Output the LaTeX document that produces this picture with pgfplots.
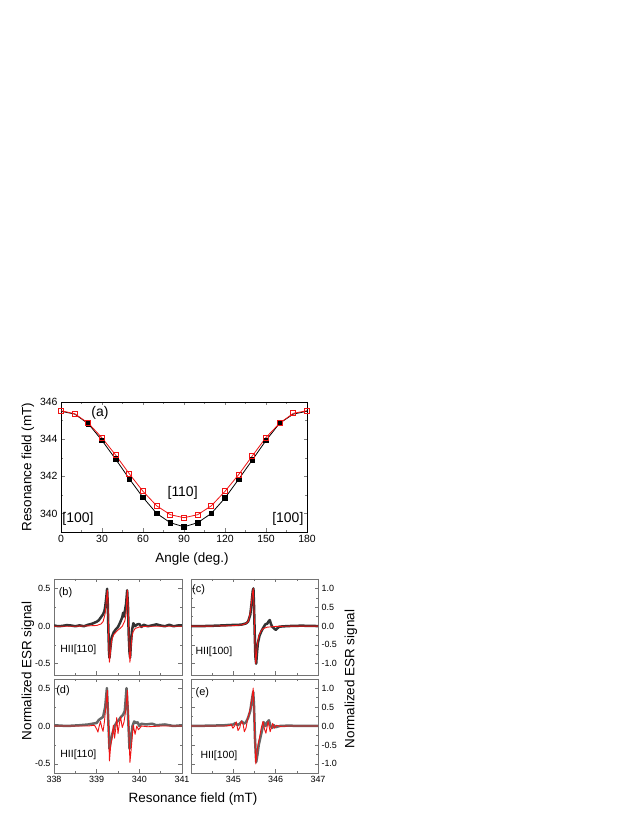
\documentclass[border=0pt]{standalone}
\usepackage{fontspec}
\setmainfont{Liberation Sans}
\usepackage{pgfplots}
\pgfplotsset{compat=1.18}
\definecolor{ored}{RGB}{240,20,20}
\begin{document}
\begin{tikzpicture}[x=1bp,y=1bp]
\path[fill=white,use as bounding box] (0,0) rectangle (638,825);
\pgfplotsset{
  myax/.style={scale only axis, tick align=inside, anchor=south west,
    /pgf/number format/assume math mode=true,
    major tick length=3.5bp, minor tick length=2bp,
    xtick pos=both, ytick pos=both},
  bot/.style={myax, width=127bp, height=95bp,
    axis line style={black!55, line width=0.8bp},
    every tick/.style={black!55, line width=0.5bp},
    ticklabel style={font=\fontsize{9}{10}\selectfont},
    minor x tick num=1, minor y tick num=1,
    yticklabel style={/pgf/number format/.cd, fixed, fixed zerofill, precision=1},
    clip=true},
  expt/.style={black!80, line width=2.5bp, line join=round},
  sim/.style={ored, line width=0.9bp, line join=round},
}
% ---------------- panel (a)
\begin{axis}[myax, at={(61bp,293bp)}, width=246bp, height=130bp,
  xmin=0, xmax=180, ymin=339, ymax=346,
  xtick={0,30,...,180}, ytick={340,342,344,346},
  minor x tick num=1, minor y tick num=1,
  axis line style={line width=0.7bp},
  ticklabel style={font=\fontsize{10.5}{12}\selectfont},
  clip=false]
\addplot[black, line width=0.8bp, mark=square*, mark size=2.3bp, mark indices={3,...,17}] coordinates {
(0,345.5) (10,345.35) (20,344.83) (30,343.93) (40,342.92) (50,341.86) (60,340.86)
(70,340.0) (80,339.5) (90,339.28) (100,339.5) (110,340.0) (120,340.83) (130,341.84)
(140,342.88) (150,343.93) (160,344.86) (170,345.35) (180,345.5)};
\addplot[ored, line width=0.8bp, mark=square, mark size=2.5bp, mark options={line width=0.7bp}] coordinates {
(0,345.53) (10,345.37) (20,344.86) (30,344.07) (40,343.14) (50,342.13) (60,341.19)
(70,340.41) (80,339.93) (90,339.77) (100,339.93) (110,340.41) (120,341.19) (130,342.09)
(140,343.1) (150,344.09) (160,344.86) (170,345.39) (180,345.53)};
\node[font=\fontsize{14}{16}\selectfont] at (axis cs:28.5,345.4) {(a)};
\node[font=\fontsize{14}{16}\selectfont] at (axis cs:89,341.1) {[110]};
\node[font=\fontsize{14}{16}\selectfont] at (axis cs:12.4,339.7) {[100]};
\node[font=\fontsize{14}{16}\selectfont] at (axis cs:166,339.7) {[100]};
\end{axis}
\node[rotate=90, font=\fontsize{13.5}{15}\selectfont] at (28,358) {Resonance field (mT)};
\node[font=\fontsize{13.5}{15}\selectfont] at (192,266) {Angle (deg.)};
% ---------------- panel (b)
\begin{axis}[bot, at={(54bp,150bp)}, width=128bp, height=96bp,
  xmin=338, xmax=341, ymin=-0.65, ymax=0.63,
  xtick={338,339,340,341}, xticklabels={}, ytick={-0.5,0,0.5}]
\addplot[expt] coordinates {
(338.0,0.01) (338.1,0.0) (338.2,0.005) (338.3,0.015) (338.4,0.01) (338.5,0.0) (338.6,0.012)
(338.7,0.0) (338.8,0.02) (338.9,0.035) (339.0,0.06) (339.05,0.08) (339.1,0.12) (339.15,0.16)
(339.18,0.2) (339.2,0.26) (339.225,0.38) (339.245,0.5) (339.26,0.3) (339.275,-0.05)
(339.29,-0.35) (339.30,-0.42) (339.32,-0.3) (339.35,-0.15) (339.4,-0.08) (339.45,-0.04)
(339.5,-0.01) (339.55,0.05) (339.6,0.12) (339.62,0.18) (339.64,0.13) (339.66,0.2)
(339.69,0.3) (339.715,0.48) (339.735,0.25) (339.75,-0.1) (339.77,-0.35) (339.785,-0.42)
(339.8,-0.25) (339.83,-0.05) (339.86,0.04) (339.9,0.0) (339.95,0.025) (340.0,0.03)
(340.05,-0.01) (340.1,0.02) (340.2,0.0) (340.3,0.012) (340.4,0.025) (340.5,0.01)
(340.6,0.0) (340.7,0.02) (340.8,0.0) (340.9,0.01) (341.0,0.01)};
\addplot[sim] coordinates {
(338.0,0.0) (338.5,0.0) (338.8,0.005) (339.0,0.01) (339.1,0.03) (339.15,0.06) (339.2,0.17)
(339.225,0.33) (339.25,0.48) (339.26,0.42) (339.275,0.0) (339.29,-0.40) (339.30,-0.48)
(339.325,-0.33) (339.35,-0.19) (339.4,-0.11) (339.45,-0.08) (339.5,-0.05) (339.55,-0.03)
(339.6,0.0) (339.66,0.07) (339.69,0.17) (339.70,0.28) (339.71,0.40) (339.72,0.48)
(339.735,0.3) (339.75,0.0) (339.765,-0.35) (339.78,-0.48) (339.80,-0.32) (339.825,-0.15)
(339.85,-0.08) (339.9,-0.03) (340.0,-0.01) (340.2,0.0) (341.0,0.0)};
\node[font=\fontsize{11}{12}\selectfont] at (rel axis cs:0.09,0.86) {(b)};
\node[font=\fontsize{10.5}{12}\selectfont] at (rel axis cs:0.19,0.26) {HII[110]};
\end{axis}
% ---------------- panel (c)
\begin{axis}[bot, at={(191bp,150bp)}, width=127bp, height=96bp,
  xmin=344, xmax=347, ymin=-1.3, ymax=1.25,
  xtick={344,345,346,347}, xticklabels={}, ytick={-1,-0.5,0,0.5,1},
  yticklabel pos=right]
\addplot[expt] coordinates {
(344.0,0.0) (344.3,0.0) (344.6,0.01) (344.8,0.02) (345.0,0.03) (345.1,0.03) (345.2,0.04)
(345.3,0.07) (345.35,0.12) (345.4,0.3) (345.43,0.6) (345.46,0.95) (345.475,1.0) (345.49,0.5)
(345.505,-0.2) (345.52,-0.8) (345.54,-1.0) (345.56,-0.7) (345.58,-0.45) (345.62,-0.25)
(345.67,-0.12) (345.72,-0.02) (345.76,0.05) (345.80,0.06) (345.83,0.12) (345.86,0.16)
(345.89,0.05) (345.92,-0.02) (345.96,-0.06) (346.0,-0.1) (346.04,-0.06) (346.08,-0.02)
(346.15,-0.01) (346.3,0.0) (346.6,0.01) (347.0,0.0)};
\addplot[sim] coordinates {
(344.0,0.0) (344.5,0.0) (344.8,0.005) (345.0,0.01) (345.2,0.03) (345.3,0.07) (345.35,0.12)
(345.39,0.3) (345.42,0.55) (345.45,0.85) (345.47,1.0) (345.485,0.6) (345.50,0.0)
(345.515,-0.7) (345.53,-1.0) (345.55,-0.7) (345.57,-0.45) (345.6,-0.28) (345.65,-0.14)
(345.7,-0.07) (345.8,-0.03) (346.0,-0.01) (346.5,0.0) (347.0,0.0)};
\node[font=\fontsize{11}{12}\selectfont] at (rel axis cs:0.06,0.885) {(c)};
\node[font=\fontsize{10.5}{12}\selectfont] at (rel axis cs:0.18,0.24) {HII[100]};
\end{axis}
% ---------------- panel (d)
\begin{axis}[bot, at={(54bp,52bp)}, width=128bp, height=94bp,
  xmin=338, xmax=341, ymin=-0.62, ymax=0.62,
  xtick={338,339,340,341}, ytick={-0.5,0,0.5},
  xticklabel style={/pgf/number format/.cd, fixed, precision=0}]
\addplot[expt, black!60] coordinates {
(338.0,0.01) (338.3,0.0) (338.6,0.01) (338.8,0.02) (338.9,0.03) (339.0,0.04) (339.05,0.08)
(339.1,0.1) (339.15,0.12) (339.2,0.25) (339.24,0.5) (339.27,0.1) (339.3,-0.3) (339.33,-0.2)
(339.37,-0.1) (339.42,0.0) (339.47,0.05) (339.52,0.08) (339.57,0.12) (339.62,0.15)
(339.66,0.2) (339.7,0.5) (339.73,0.2) (339.77,-0.3) (339.8,-0.2) (339.84,0.0) (339.88,0.06)
(339.92,0.04) (339.96,0.05) (340.0,0.0) (340.05,0.03) (340.15,0.02) (340.3,0.03)
(340.4,0.01) (340.6,0.02) (340.8,0.0) (341.0,0.01)};
\addplot[sim] coordinates {
(338.0,0.0) (338.5,0.0) (338.8,0.0) (338.95,0.01) (339.0,-0.04) (339.03,-0.08) (339.06,0.0)
(339.09,0.06) (339.12,-0.02) (339.15,-0.07) (339.18,0.05) (339.21,0.22) (339.25,0.47)
(339.275,0.0) (339.30,-0.46) (339.33,-0.25) (339.36,-0.16) (339.39,0.01) (339.42,-0.16)
(339.45,-0.02) (339.47,0.11) (339.50,-0.1) (339.53,0.02) (339.56,0.12) (339.60,-0.02)
(339.64,0.05) (339.68,0.2) (339.72,0.47) (339.75,0.0) (339.78,-0.48) (339.81,-0.3)
(339.84,-0.1) (339.86,0.01) (339.9,-0.11) (339.94,0.0) (339.98,-0.05) (340.05,0.0)
(340.2,-0.01) (340.5,0.0) (341.0,0.0)};
\node[font=\fontsize{11}{12}\selectfont] at (rel axis cs:0.07,0.88) {(d)};
\node[font=\fontsize{10.5}{12}\selectfont] at (rel axis cs:0.19,0.19) {HII[110]};
\end{axis}
% ---------------- panel (e)
\begin{axis}[bot, at={(191bp,52bp)}, width=127bp, height=94bp,
  xmin=344, xmax=347, ymin=-1.24, ymax=1.24,
  xtick={344,345,346,347}, xticklabels={,345,346,347}, ytick={-1,-0.5,0,0.5,1},
  yticklabel pos=right]
\addplot[expt, black!60] coordinates {
(344.0,0.0) (344.5,0.01) (344.8,0.02) (344.9,0.03) (345.0,0.04) (345.05,0.08) (345.1,0.02)
(345.15,0.06) (345.2,0.12) (345.25,0.06) (345.3,0.1) (345.35,0.22) (345.4,0.4) (345.44,0.7)
(345.47,0.9) (345.49,0.5) (345.51,-0.3) (345.54,-0.95) (345.57,-0.75) (345.6,-0.5)
(345.64,-0.3) (345.68,-0.1) (345.72,0.1) (345.76,0.0) (345.8,0.1) (345.84,0.15) (345.88,0.0)
(345.92,-0.05) (345.96,0.02) (346.0,-0.03) (346.1,0.0) (346.3,0.01) (346.6,0.0) (347.0,0.0)};
\addplot[sim] coordinates {
(344.0,0.0) (344.5,0.0) (344.8,0.0) (344.9,0.01) (344.95,0.04) (344.99,-0.06) (345.03,0.0)
(345.07,0.11) (345.11,-0.12) (345.15,-0.05) (345.19,0.13) (345.23,0.05) (345.26,-0.15)
(345.30,-0.05) (345.34,0.2) (345.38,0.35) (345.43,0.64) (345.47,1.0) (345.50,0.0)
(345.53,-1.0) (345.56,-0.68) (345.59,-0.45) (345.62,-0.3) (345.66,-0.05) (345.70,0.12)
(345.74,-0.1) (345.77,-0.19) (345.82,0.12) (345.87,-0.15) (345.93,0.07) (345.97,-0.06)
(346.02,0.02) (346.1,-0.01) (346.3,0.0) (347.0,0.0)};
\node[font=\fontsize{11}{12}\selectfont] at (rel axis cs:0.09,0.85) {(e)};
\node[font=\fontsize{10.5}{12}\selectfont] at (rel axis cs:0.22,0.18) {HII[100]};
\end{axis}
\node[rotate=90, font=\fontsize{13.5}{15}\selectfont] at (28,154) {Normalized ESR signal};
\node[rotate=90, font=\fontsize{13.5}{15}\selectfont] at (351,146) {Normalized ESR signal};
\node[font=\fontsize{13.5}{15}\selectfont] at (193,26) {Resonance field (mT)};
\end{tikzpicture}
\end{document}
